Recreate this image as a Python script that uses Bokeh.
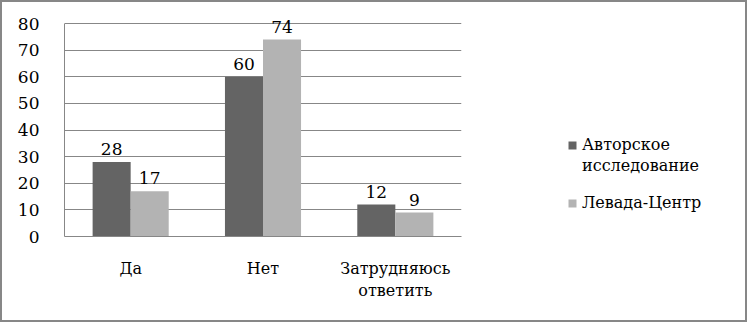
from bokeh.plotting import figure
from bokeh.layouts import row
from bokeh.models import (FactorRange, Range1d, FixedTicker, Legend, LegendItem,
                          ColumnDataSource)
from bokeh.transform import dodge
from bokeh.core.properties import value
from bokeh.embed import file_html
from bokeh.resources import INLINE

# Survey answers, percent of respondents
categories = ["Да", "Нет", "Затрудняюсь\nответить"]
author_study = [28, 60, 12]
levada_center = [17, 74, 9]
series_names = ["Авторское\nисследование", "Левада-Центр"]
y_ticks = [0, 10, 20, 30, 40, 50, 60, 70, 80]

FONT = "DejaVu Serif"
FS_TEXT = "16px"
FS_NUM = "17px"
DARK = "#646464"
LIGHT = "#b3b3b3"
GRID = "#878787"
BORDER = "2px solid #878787"

src = ColumnDataSource(dict(
    cat=categories,
    a=author_study,
    b=levada_center,
    a_txt=[str(v) for v in author_study],
    b_txt=[str(v) for v in levada_center],
))

bw = 0.2875
off = bw / 2

# --- bar chart ---------------------------------------------------------
# headroom above 80 keeps value labels unclipped; the axis stops at 80
p = figure(
    x_range=FactorRange(factors=categories, range_padding=0),
    y_range=Range1d(0, 87.9),
    width=470, height=322,
    min_border_left=62, min_border_top=0,
    min_border_right=11, min_border_bottom=88,
    output_backend="svg", toolbar_location=None,
)
p.styles = {"border": BORDER, "border-right": "none"}
p.outline_line_color = None

p.vbar(x=dodge("cat", -off, range=p.x_range), top="a", width=bw,
       source=src, fill_color=DARK, line_color=None)
p.vbar(x=dodge("cat", off, range=p.x_range), top="b", width=bw,
       source=src, fill_color=LIGHT, line_color=None)

for col, txt, dx in (("a", "a_txt", -off), ("b", "b_txt", off)):
    p.text(x=dodge("cat", dx, range=p.x_range), y=col, text=txt, source=src,
           text_align="center", text_baseline="alphabetic", y_offset=-13,
           text_font=value(FONT), text_font_size=FS_NUM, text_color="black")

p.xgrid.grid_line_color = None
p.ygrid.grid_line_color = GRID

p.yaxis.ticker = FixedTicker(ticks=y_ticks)
p.yaxis.bounds = (0, 80)

for ax in (p.xaxis[0], p.yaxis[0]):
    ax.axis_line_color = GRID
    ax.major_tick_line_color = None
    ax.minor_tick_line_color = None
    ax.major_label_text_font = FONT
    ax.major_label_text_color = "black"
p.yaxis.major_label_text_font_size = FS_NUM
p.xaxis.major_label_text_font_size = FS_TEXT
p.yaxis.major_label_standoff = 19
p.xaxis.major_label_standoff = 16

# --- legend panel --------------------------------------------------------
# hidden copies of the series supply the legend swatches
q = figure(
    width=277, height=322,
    x_range=FactorRange(factors=categories), y_range=Range1d(0, 1),
    min_border=0, output_backend="svg", toolbar_location=None,
)
q.styles = {"border": BORDER, "border-left": "none"}
q.axis.visible = False
q.grid.grid_line_color = None
q.outline_line_color = None

k1 = q.vbar(x="cat", top="a", width=bw, source=src,
            fill_color=DARK, line_color=None, visible=False)
k2 = q.vbar(x="cat", top="b", width=bw, source=src,
            fill_color=LIGHT, line_color=None, visible=False)
k0 = q.vbar(x="cat", top="a", width=bw, source=src,
            fill_alpha=0, line_alpha=0, visible=False)

first_line, second_line = series_names[0].split("\n")
leg_style = dict(
    padding=0, margin=0, spacing=0, label_height=21,
    glyph_width=10, glyph_height=10, label_standoff=5,
    border_line_color=None, background_fill_alpha=0,
    inactive_fill_alpha=0,
    label_text_font=FONT, label_text_font_size=FS_TEXT, label_text_color="black",
)
# the row aligns this frame with the chart's frame, so offsets are from its bottom
legend_a = Legend(
    items=[LegendItem(label=first_line, renderers=[k1]),
           LegendItem(label=second_line, renderers=[k0])],
    location=(97, 60), **leg_style,
)
legend_b = Legend(
    items=[LegendItem(label=series_names[1], renderers=[k2])],
    location=(97, 23), **leg_style,
)
q.add_layout(legend_a)
q.add_layout(legend_b)

open("out.html", "w").write(file_html(row(p, q), INLINE))
